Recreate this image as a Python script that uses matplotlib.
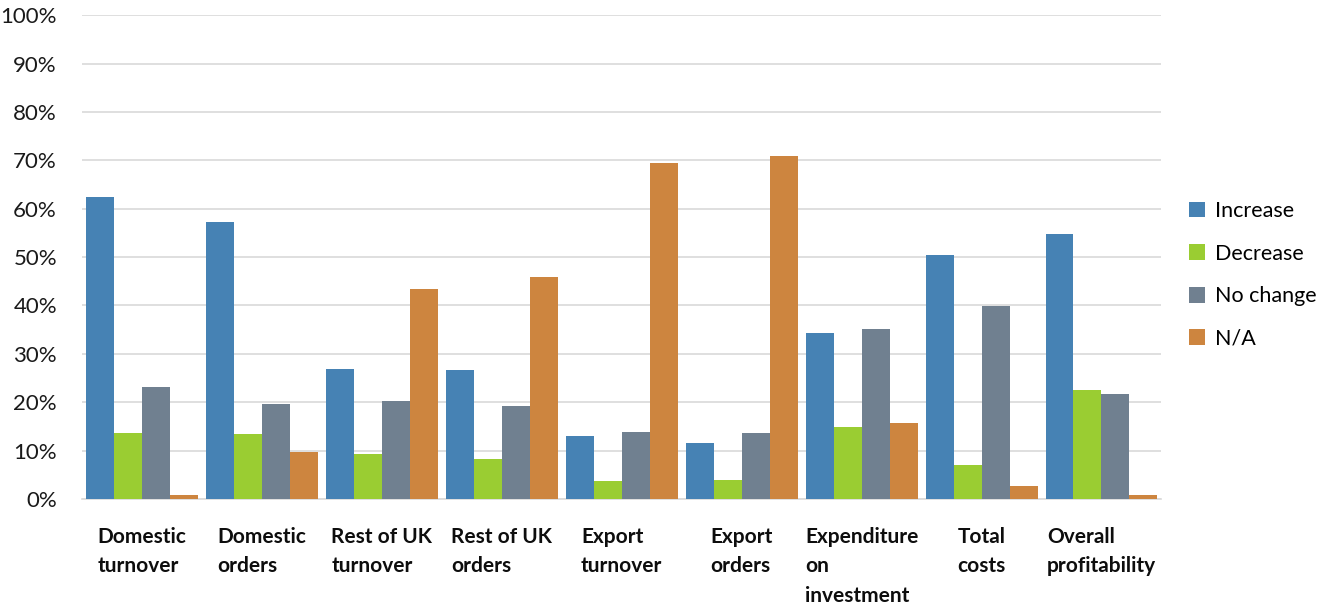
import numpy as np
import matplotlib.pyplot as plt
from matplotlib.patches import Patch

plt.rcParams['font.family'] = ['Lato', 'DejaVu Sans']

categories = ["Domestic\nturnover", "Domestic\norders", "Rest of UK\nturnover",
              "Rest of UK\norders", "Export\nturnover", "Export\norders",
              "Expenditure\non\ninvestment", "Total\ncosts", "Overall\nprofitability"]
series_names = ["Increase", "Decrease", "No change", "N/A"]

increase = [62.4, 57.2, 26.9, 26.7, 13.0, 11.6, 34.3, 50.4, 54.8]
decrease = [13.6, 13.4, 9.3, 8.3, 3.7, 3.9, 14.9, 7.0, 22.5]
no_change = [23.1, 19.6, 20.2, 19.2, 13.8, 13.6, 35.1, 39.9, 21.7]
not_applicable = [0.8, 9.7, 43.4, 45.9, 69.4, 70.9, 15.7, 2.7, 0.8]

colors = ["#4682B4", "#9ACD32", "#708090", "#CD853F"]

fig = plt.figure(figsize=(13.35, 6.07), dpi=100)
ax = fig.add_axes([0.0614, 0.178, 0.8086, 0.797])

x = np.arange(len(categories))
width = 0.2333
for i, (vals, col) in enumerate(zip([increase, decrease, no_change, not_applicable], colors)):
    ax.bar(x + (i - 1.5) * width, vals, width, color=col, zorder=3)

ax.set_xlim(-0.5, len(categories) - 0.5)
ax.set_ylim(0, 100)
ax.set_yticks(np.arange(0, 101, 10))
ax.set_yticklabels([f"{v}%" for v in range(0, 101, 10)], fontsize=16, color="#1a1a1a")
ax.yaxis.grid(True, color="#D9D9D9", linewidth=1.2, zorder=0)
ax.tick_params(axis="y", length=0, pad=18)

ax.set_xticks(x)
ax.set_xticklabels(categories, fontsize=15, fontweight="bold", color="#0d0d0d",
                   va="top", linespacing=1.6)
ax.tick_params(axis="x", length=0, pad=20)
for lbl in ax.get_xticklabels():
    lbl.set_multialignment("left")

for s in ["top", "right", "left"]:
    ax.spines[s].set_visible(False)
ax.spines["bottom"].set_color("#D9D9D9")
ax.spines["bottom"].set_linewidth(1.2)

handles = [Patch(facecolor=c, edgecolor="none") for c in colors]
fig.legend(handles, series_names, loc="center left", bbox_to_anchor=(0.876, 0.547),
           frameon=False, fontsize=15.5, handlelength=0.75, handleheight=0.75,
           handletextpad=0.45, labelspacing=1.05)

fig.savefig("out.png", dpi=100)
